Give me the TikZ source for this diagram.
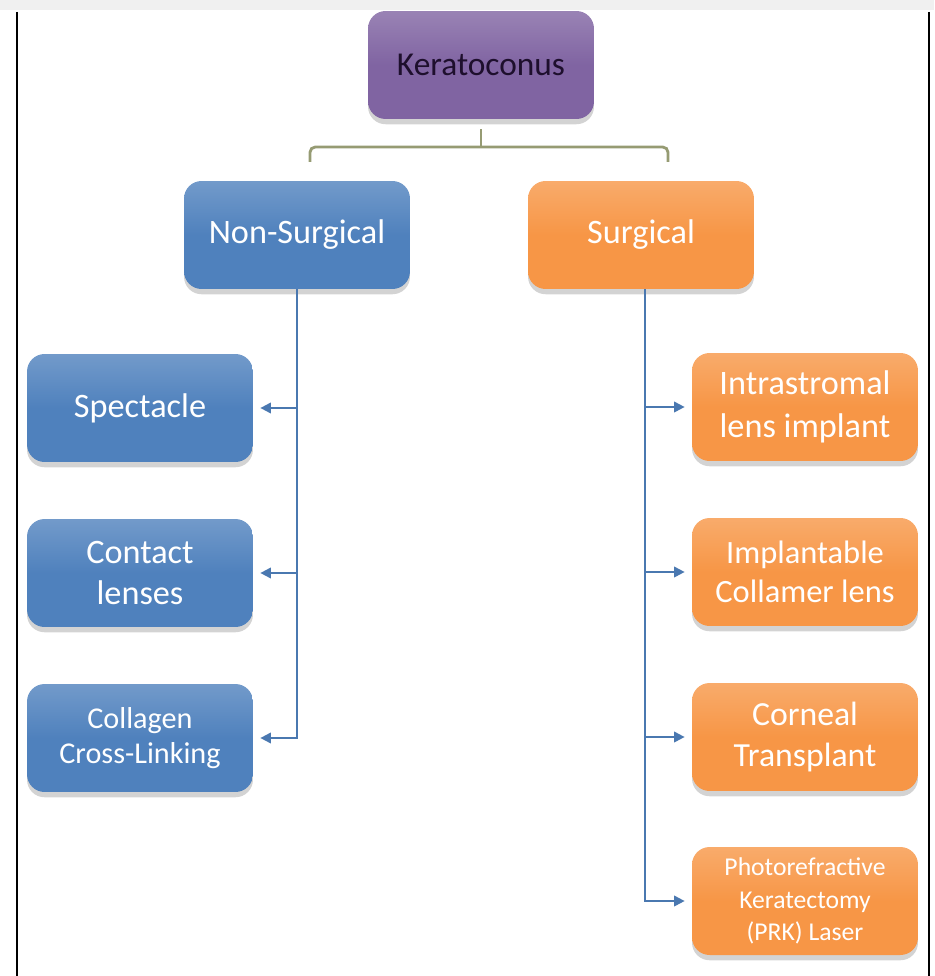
\documentclass[tikz,border=0pt]{standalone}
\usepackage{fontspec}
\setmainfont{Carlito}
\usetikzlibrary{arrows.meta,shadows}
\definecolor{kblue}{RGB}{79,129,189}
\definecolor{korange}{RGB}{247,150,70}
\definecolor{kpurple}{RGB}{128,100,162}
\definecolor{kolive}{RGB}{150,155,115}
\definecolor{klink}{RGB}{74,120,176}
\tikzset{
  box/.style={rounded corners=10pt, minimum width=4.52cm, minimum height=2.16cm,
    align=center, text=white, inner sep=2pt,
    drop shadow={opacity=0.35, shadow xshift=0pt, shadow yshift=-3pt}},
  bluebox/.style={box, top color=kblue!80!white, bottom color=kblue, middle color=kblue},
  orangebox/.style={box, top color=korange!80!white, bottom color=korange, middle color=korange},
  purplebox/.style={box, top color=kpurple!80!white, bottom color=kpurple, middle color=kpurple, text={rgb,255:red,30;green,15;blue,45}},
  link/.style={draw=klink, line width=1.1pt, -{Triangle[length=6pt,width=6pt]}, shorten >=4pt},
  brace/.style={draw=kolive, line width=1.6pt, rounded corners=3pt}
}
\begin{document}
\begin{tikzpicture}[x=0.02cm, y=-0.02cm]
\useasboundingbox (0,0) rectangle (934,976);
% frame
\fill[black!6] (0,0) rectangle (934,10);
\draw[black, line width=0.8pt] (17,12) -- (17,976);
\draw[black, line width=0.8pt] (929,12) -- (929,976);

% top
\node[purplebox, font=\fontsize{19}{22}\selectfont] (kera) at (481,65) {Keratoconus};
\node[bluebox, font=\fontsize{19.5}{22}\selectfont] (nons) at (297,235) {Non-Surgical};
\node[orangebox, font=\fontsize{19.5}{22}\selectfont] (surg) at (641,235) {Surgical};

% left column
\node[bluebox, font=\fontsize{19.5}{22}\selectfont] (spec) at (140,408) {Spectacle};
\node[bluebox, font=\fontsize{19.5}{23.5}\selectfont] (cont) at (140,573) {Contact\\lenses};
\node[bluebox, font=\fontsize{17.2}{20}\selectfont] (coll) at (140,738) {Collagen\\Cross-Linking};

% right column
\node[orangebox, font=\fontsize{19.5}{24.5}\selectfont] (intr) at (805,407) {Intrastromal\\lens implant};
\node[orangebox, font=\fontsize{18.5}{22}\selectfont] (impl) at (805,572) {Implantable\\Collamer lens};
\node[orangebox, font=\fontsize{19.2}{23}\selectfont] (corn) at (805,737) {Corneal\\Transplant};
\node[orangebox, font=\fontsize{14.6}{18.5}\selectfont] (prk) at (805,901) {Photorefractive\\Keratectomy\\(PRK) Laser};

% bracket
\coordinate (bl) at (310,162);
\coordinate (br) at (668,162);
\draw[brace] (bl) -- (bl |- 0,147) -- (br |- 0,147) -- (br);
\draw[brace] ([yshift=-10*0.02cm]kera.south) -- ++(0,17);

% links
\draw[link] (nons.south) |- (spec.east);
\draw[link] (nons.south) |- (cont.east);
\draw[link] (nons.south) |- (coll.east);
\draw[link] ([xshift=4*0.02cm]surg.south) |- (intr.west);
\draw[link] ([xshift=4*0.02cm]surg.south) |- (impl.west);
\draw[link] ([xshift=4*0.02cm]surg.south) |- (corn.west);
\draw[link] ([xshift=4*0.02cm]surg.south) |- (prk.west);
\end{tikzpicture}
\end{document}
